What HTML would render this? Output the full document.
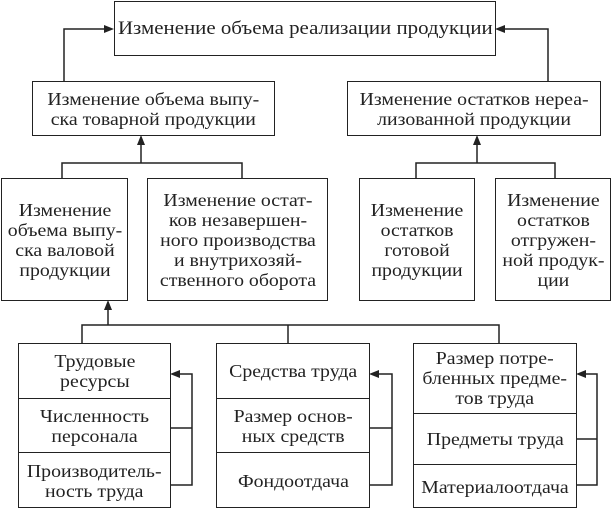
<!DOCTYPE html>
<html><head><meta charset="utf-8"><style>
body{margin:0;width:611px;height:508px;background:#fff;position:relative;overflow:hidden;font-family:"Liberation Serif",serif;color:#222}
.b{position:absolute;box-sizing:border-box;border:1.5px solid #222;display:flex;align-items:center;justify-content:center;text-align:center;font-size:18px;line-height:20px}
.c{position:absolute;box-sizing:border-box;display:flex;align-items:center;justify-content:center;text-align:center;font-size:18px;line-height:20px}
.b span,.c span{display:inline-block;transform:scaleX(1.1);white-space:nowrap}
svg{position:absolute;left:0;top:0}
</style></head><body>
<svg width="611" height="508"><g stroke="#222" stroke-width="1.5" fill="none">
<polyline points="64,81 64,29 108,29"/><polyline points="548,81 548,29 501,29"/>
<line x1="141" y1="163" x2="141" y2="142"/><polyline points="62,178 62,163 242,163 242,178"/>
<line x1="477" y1="163" x2="477" y2="142"/><polyline points="416,178 416,163 555,163 555,178"/>
<line x1="108" y1="325" x2="108" y2="307"/><polyline points="82,343 82,325 499,325 499,343"/><line x1="288" y1="325" x2="288" y2="343"/>
<polyline points="170,485 192,485 192,374 177,374"/><line x1="170" y1="428" x2="192" y2="428"/>
<polyline points="369,485 392,485 392,374 376,374"/><line x1="369" y1="428" x2="392" y2="428"/>
<polyline points="576,485 597,485 597,374 583,374"/><line x1="576" y1="439" x2="597" y2="439"/>
</g><g fill="#222">
<polygon points="114,29 104,25 104,33"/><polygon points="495,29 505,25 505,33"/>
<polygon points="141,135 137,145 145,145"/><polygon points="477,135 473,145 481,145"/>
<polygon points="108,300 104,310 112,310"/>
<polygon points="170,374 180,370 180,378"/><polygon points="369,374 379,370 379,378"/><polygon points="576,374 586,370 586,378"/>
</g></svg>
<div class="b" style="left:114px;top:1px;width:382px;height:55px;font-size:19px"><span>Изменение объема реализации продукции</span></div>
<div class="b" style="left:32px;top:81px;width:243px;height:55px"><span>Изменение объема выпу-<br>ска товарной продукции</span></div>
<div class="b" style="left:347px;top:81px;width:254px;height:55px"><span>Изменение остатков нереа-<br>лизованной продукции</span></div>
<div class="b" style="left:1px;top:178px;width:127px;height:123px"><span>Изменение<br>объема выпу-<br>ска валовой<br>продукции</span></div>
<div class="b" style="left:147px;top:178px;width:181px;height:123px"><span>Изменение остат-<br>ков незавершен-<br>ного производства<br>и внутрихозяй-<br>ственного оборота</span></div>
<div class="b" style="left:359px;top:178px;width:116px;height:123px"><span>Изменение<br>остатков<br>готовой<br>продукции</span></div>
<div class="b" style="left:495px;top:178px;width:116px;height:123px"><span>Изменение<br>остатков<br>отгружен-<br>ной продук-<br>ции</span></div>
<div class="b" style="left:18px;top:343px;width:153px;height:165px"></div>
<div class="c" style="left:18px;top:343px;width:153px;height:55px"><span>Трудовые<br>ресурсы</span></div>
<div class="c" style="left:18px;top:398px;width:153px;height:54px;border-top:1.5px solid #222"><span>Численность<br>персонала</span></div>
<div class="c" style="left:18px;top:452px;width:153px;height:56px;border-top:1.5px solid #222"><span>Производитель-<br>ность труда</span></div>
<div class="b" style="left:216px;top:343px;width:154px;height:165px"></div>
<div class="c" style="left:216px;top:343px;width:154px;height:55px"><span>Средства труда</span></div>
<div class="c" style="left:216px;top:398px;width:154px;height:54px;border-top:1.5px solid #222"><span>Размер основ-<br>ных средств</span></div>
<div class="c" style="left:216px;top:452px;width:154px;height:56px;border-top:1.5px solid #222"><span>Фондоотдача</span></div>
<div class="b" style="left:413px;top:343px;width:164px;height:165px"></div>
<div class="c" style="left:413px;top:343px;width:164px;height:70px"><span>Размер потре-<br>бленных предме-<br>тов труда</span></div>
<div class="c" style="left:413px;top:413px;width:164px;height:51px;border-top:1.5px solid #222"><span>Предметы труда</span></div>
<div class="c" style="left:413px;top:464px;width:164px;height:44px;border-top:1.5px solid #222"><span>Материалоотдача</span></div>
</body></html>
